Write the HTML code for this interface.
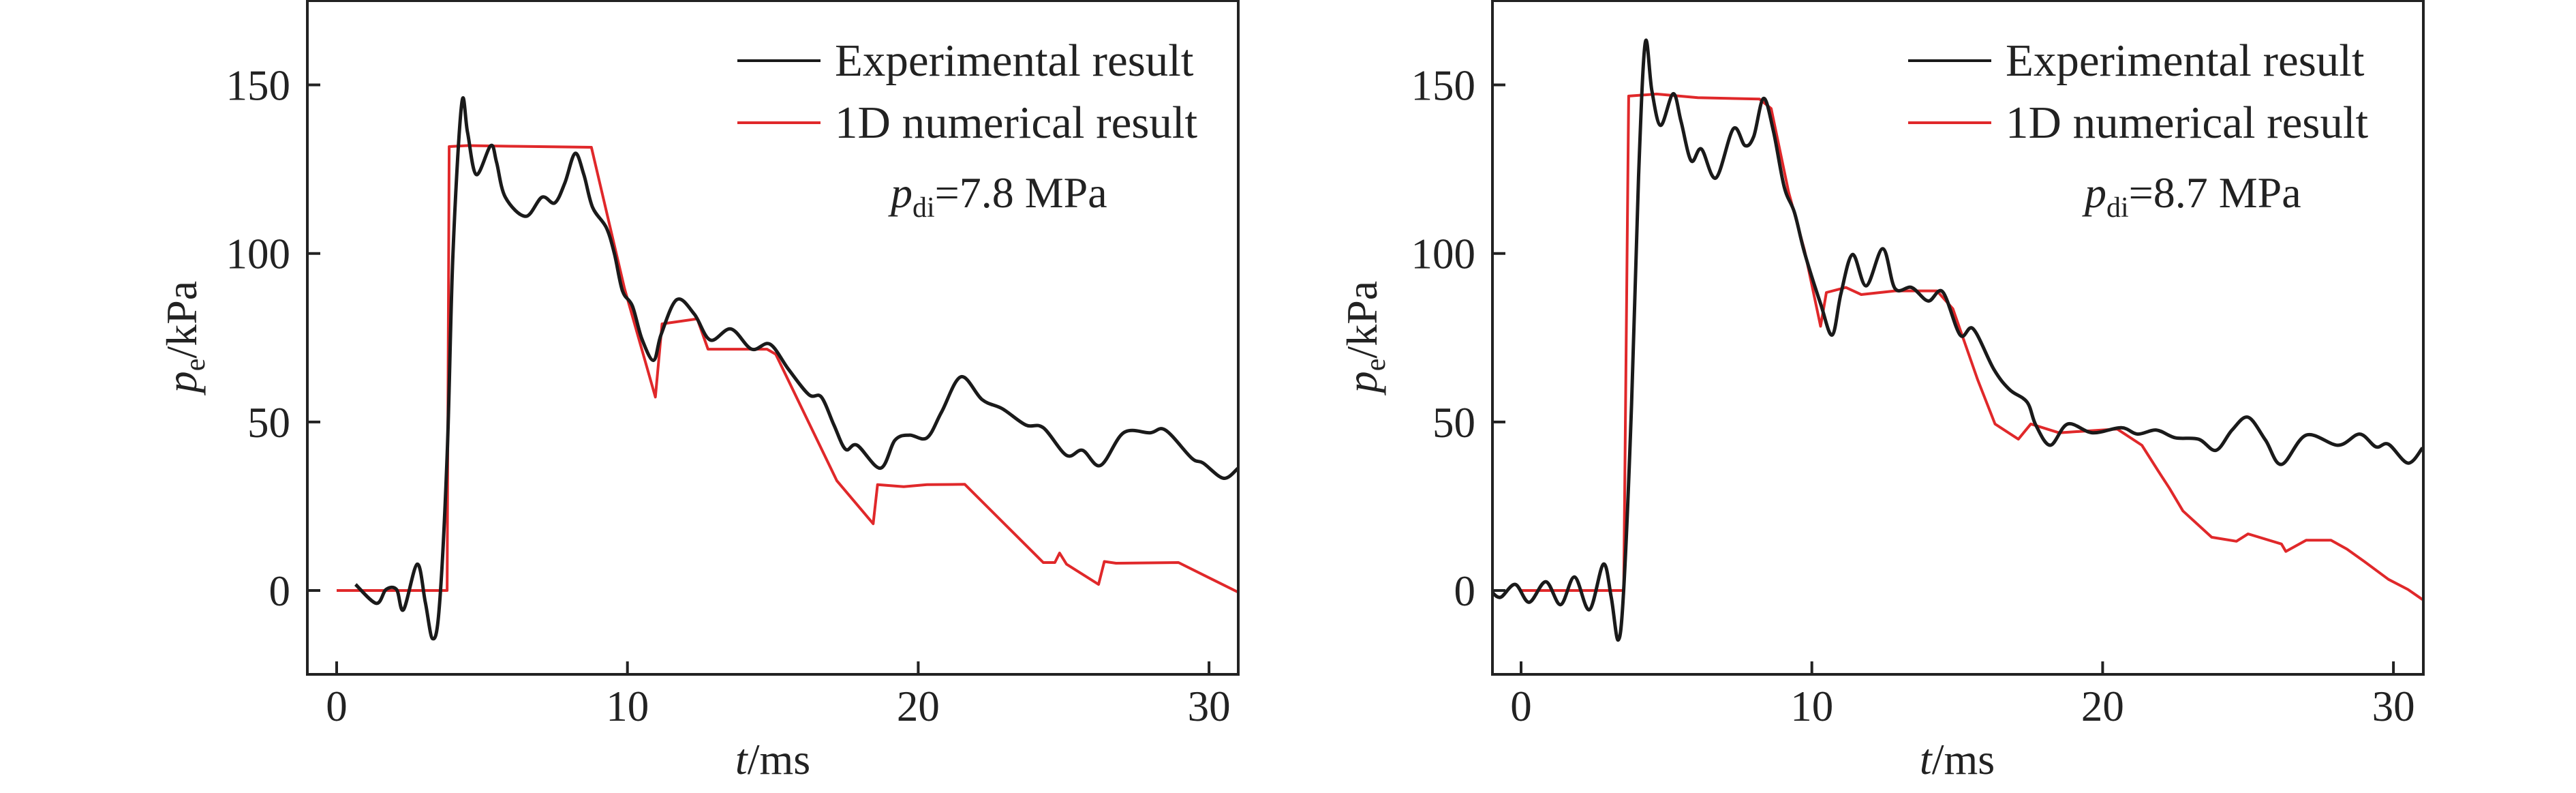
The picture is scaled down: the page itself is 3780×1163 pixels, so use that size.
<!DOCTYPE html>
<html><head><meta charset="utf-8"><style>
html,body{margin:0;padding:0;background:#fff;}
svg{display:block;font-family:"Liberation Serif",serif;}
</style></head><body>
<svg id="chart" width="3780" height="1163" viewBox="0 0 3780 1163" xmlns="http://www.w3.org/2000/svg"></svg>
<script>
const xTicks=[0,10,20,30];
const yTicks=[0,50,100,150];
const leftExpT=[0.65,1.36,1.7,2.06,2.3,2.77,3.05,3.3,3.53,3.8,4.0,4.3,4.5,4.8,5.3,5.5,5.8,6.5,7.06,7.5,7.85,8.2,8.5,8.8,9.27,9.55,9.83,10.17,10.5,10.9,11.16,11.7,12.3,12.85,13.56,14.27,14.9,15.54,16.24,16.67,17.1,17.5,17.9,18.7,19.2,19.7,20.3,20.8,21.47,22.2,22.9,23.7,24.3,25.1,25.65,26.27,27.06,27.97,28.5,29.4,29.8,30.5,31];
const leftExpV=[1.8,-3.8,0.3,0.3,-5.7,7.8,-3.5,-14.3,-5,40,100,144.4,136,123.4,132,127,116.7,111,116.7,115,121,129.7,123.4,113.7,107.7,100,88.9,84.4,74.6,68.3,76,86.3,82,74.3,77.6,71.6,73.1,65.6,58.1,57.4,49.1,41.9,43.1,36.3,44.6,46.1,45.3,52.9,63.4,56.6,53.9,49.1,48.3,40.1,41.6,37.1,46.8,46.8,47.6,39.3,37.8,33.3,36.3];
const leftNumT=[0,3.8,3.87,4.5,6,8.76,9.9,10.96,11.19,12.4,12.77,14.8,15.1,17.2,18.45,18.6,19.5,20.3,21.6,24.3,24.7,24.86,25.1,26.2,26.4,26.8,28.95,31];
const leftNumV=[0,0,131.7,132,131.8,131.5,89.6,57.4,79.1,80.6,71.6,71.6,70.1,32.6,19.8,31.4,30.8,31.4,31.5,8.3,8.3,11.1,7.8,1.8,8.6,8.1,8.3,-0.5];
const rightExpT=[-1,-0.7,-0.2,0.28,0.85,1.36,1.84,2.35,2.83,3.1,3.34,3.53,3.8,4.04,4.27,4.5,4.8,5.23,5.5,5.85,6.2,6.7,7.3,7.7,8.0,8.34,8.68,9.05,9.4,9.75,10.3,10.7,11.0,11.4,11.87,12.44,12.86,13.43,14.0,14.5,15.1,15.55,16.26,16.8,17.4,17.7,18.2,18.8,19.65,20.64,21.2,21.85,22.5,23.3,23.9,24.45,25.0,25.6,26.15,27.0,28.1,28.84,29.4,29.83,30.5,31];
const rightExpV=[-0.5,-2,1.8,-3.5,2.6,-4.2,4,-5.7,7.8,-2,-14.7,0.3,55,122.7,162.5,148.2,138,147.4,139.2,127.5,131,122.4,137,132,134.7,146,136.2,119.7,112.2,100.2,85.1,75.8,88.1,99.7,90.4,101.4,89.6,89.9,85.9,88.6,75.8,77.6,65.6,59.6,55.9,49.1,43.1,49.4,46.8,48.3,46.4,47.6,45.3,44.9,41.6,47.6,51.4,44.6,37.4,46.1,43.1,46.4,42.6,43.4,37.8,42.3];
const rightNumT=[0,3.53,3.7,4.66,6.08,8.2,8.6,9.2,9.75,10.3,10.5,11.17,11.7,12.86,14.3,14.85,15.7,16.3,17.1,17.53,18.5,20.5,21.35,21.9,22.3,22.76,23.75,24.6,25.0,26.15,26.3,27.0,27.85,28.4,29.0,29.83,30.5,31];
const rightNumV=[0,0,146.7,147.3,146.2,145.8,143,118.2,100.9,78.4,88.4,89.9,87.8,88.9,88.9,83.6,62.6,49.4,44.9,49.4,46.8,47.9,43.1,35.6,30.3,23.6,15.8,14.6,16.8,13.8,11.6,14.9,14.9,12.3,8.6,3.3,0.3,-2.7];

const NS="http://www.w3.org/2000/svg";
const svg=document.getElementById('chart');
function mk(tag,attrs,parent){const e=document.createElementNS(NS,tag);for(const k in attrs)e.setAttribute(k,attrs[k]);(parent||svg).appendChild(e);return e;}

function smoothPath(pts){
  let d="M"+pts[0][0].toFixed(1)+","+pts[0][1].toFixed(1);
  for(let i=0;i<pts.length-1;i++){
    const p0=pts[Math.max(0,i-1)],p1=pts[i],p2=pts[i+1],p3=pts[Math.min(pts.length-1,i+2)];
    const c1=[p1[0]+(p2[0]-p0[0])/6,p1[1]+(p2[1]-p0[1])/6];
    const c2=[p2[0]-(p3[0]-p1[0])/6,p2[1]-(p3[1]-p1[1])/6];
    d+=" C"+c1[0].toFixed(1)+","+c1[1].toFixed(1)+" "+c2[0].toFixed(1)+","+c2[1].toFixed(1)+" "+p2[0].toFixed(1)+","+p2[1].toFixed(1);
  }
  return d;
}

function panel(cfg){
  const L=cfg.left,R=cfg.right,T=1,B=989;
  const X0=cfg.x0,PX=42.67;
  const Y0=866,PY=4.943;
  const sx=t=>X0+t*PX;
  const sy=v=>Y0-v*PY;
  const g=mk('g',{});
  
  
  const clipId=cfg.name+'-clip';
  const cp=mk('clipPath',{id:clipId},g);
  mk('rect',{x:L,y:T,width:R-L,height:B-T},cp);
  xTicks.forEach(t=>{
    const ln=mk('line',{x1:sx(t),x2:sx(t),y1:B,y2:B-19,stroke:'#222','stroke-width':4},g);
    
    
    const tx=mk('text',{x:sx(t),y:1057,'font-size':63,'text-anchor':'middle',fill:'#222'},g);
    
    
    tx.textContent=t;
  });
  yTicks.forEach(v=>{
    const ln=mk('line',{x1:L,x2:L+19,y1:sy(v),y2:sy(v),stroke:'#222','stroke-width':4},g);
    
    
    const tx=mk('text',{x:L-25,y:sy(v)+22,'font-size':63,'text-anchor':'end',fill:'#222'},g);
    
    
    tx.textContent=v;
  });
  const np=cfg.numT.map((t,i)=>[sx(t),sy(cfg.numV[i])]);
  const red=mk('polyline',{points:np.map(p=>p[0].toFixed(1)+","+p[1].toFixed(1)).join(" "),fill:'none',stroke:'#e0282a','stroke-width':4,'stroke-linejoin':'round','clip-path':'url(#'+clipId+')'},g);
  
  
  const ep=cfg.expT.map((t,i)=>[sx(t),sy(cfg.expV[i])]);
  const blk=mk('path',{d:smoothPath(ep),fill:'none',stroke:'#1a1a1a','stroke-width':5,'stroke-linejoin':'round','clip-path':'url(#'+clipId+')'},g);
  
  
  const fr=mk('rect',{x:L,y:T,width:R-L,height:B-T,fill:'none',stroke:'#222','stroke-width':4},g);
  
  
  const lg=mk('g',{},g);
  
  
  mk('line',{x1:cfg.legX,x2:cfg.legX+122,y1:89,y2:89,stroke:'#1a1a1a','stroke-width':4},lg);
  mk('line',{x1:cfg.legX,x2:cfg.legX+122,y1:180,y2:180,stroke:'#e0282a','stroke-width':4},lg);
  const t1=mk('text',{x:cfg.legX+143,y:111,'font-size':67,fill:'#222'},lg);
  
  
  t1.textContent='Experimental result';
  const t2=mk('text',{x:cfg.legX+143,y:202,'font-size':67,fill:'#222'},lg);
  
  
  t2.textContent='1D numerical result';
  const pd=mk('text',{x:cfg.pdX,y:304,'font-size':64,fill:'#222'},g);
  
  
  pd.innerHTML='<tspan font-style="italic">p</tspan><tspan font-size="42" dy="14">di</tspan><tspan dy="-14">='+cfg.pd+' MPa</tspan>';
  const yl=mk('text',{x:0,y:0,'font-size':64,'text-anchor':'middle',fill:'#222',transform:'translate('+(cfg.yLabX)+',494) rotate(-90)'},g);
  
  
  yl.innerHTML='<tspan font-style="italic">p</tspan><tspan font-size="42" dy="12">e</tspan><tspan dy="-12">/kPa</tspan>';
  const xl=mk('text',{x:(sx(10)+sx(20))/2,y:1135,'font-size':64,'text-anchor':'middle',fill:'#222'},g);
  
  
  xl.innerHTML='<tspan font-style="italic">t</tspan>/ms';
}
panel({name:'left-chart',left:451,right:1817,x0:494,expT:leftExpT,expV:leftExpV,numT:leftNumT,numV:leftNumV,legX:1082,pdX:1307,pd:'7.8',yLabX:288});
panel({name:'right-chart',left:2190,right:3556,x0:2232,expT:rightExpT,expV:rightExpV,numT:rightNumT,numV:rightNumV,legX:2800,pdX:3059,pd:'8.7',yLabX:2020});
</script>
</body></html>
